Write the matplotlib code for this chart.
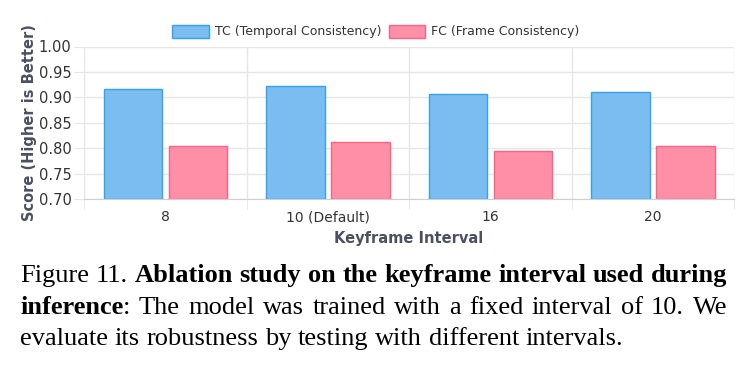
import matplotlib
matplotlib.use('Agg')
import matplotlib.pyplot as plt
import numpy as np

# data
intervals = ['8', '10 (Default)', '16', '20']
tc_scores = [0.917, 0.923, 0.907, 0.910]
fc_scores = [0.805, 0.813, 0.795, 0.804]
y_ticks = [0.70, 0.75, 0.80, 0.85, 0.90, 0.95, 1.00]

W, H = 744, 369
fig = plt.figure(figsize=(W / 100, H / 100), dpi=100)
ax = fig.add_axes([84 / W, 1 - 199 / H, 650 / W, (199 - 46.5) / H])

x = np.arange(len(intervals))
bw = 0.36
ax.bar(x - 0.2, [v - 0.70 for v in tc_scores], bw, bottom=0.70, color='#7bbdf0',
       edgecolor='#36a2eb', linewidth=1, label='TC (Temporal Consistency)', zorder=3)
ax.bar(x + 0.2, [v - 0.70 for v in fc_scores], bw, bottom=0.70, color='#ff8fa6',
       edgecolor='#ff6384', linewidth=1, label='FC (Frame Consistency)', zorder=3)

ax.set_xlim(-0.5, len(intervals) - 0.5)
ax.set_ylim(0.70, 1.00)
ax.set_yticks(y_ticks)
ax.set_yticklabels([f'{t:.2f}' for t in y_ticks])
ax.set_xticks(x)
ax.set_xticklabels(intervals)
ax.set_xticks(np.arange(-0.5, len(intervals), 1.0), minor=True)

ax.grid(axis='y', color='#e6e6e6', linewidth=1, zorder=0)
ax.grid(axis='x', which='minor', color='#e6e6e6', linewidth=1, zorder=0)
ax.tick_params(axis='x', which='major', length=0, pad=8, labelsize=10, labelcolor='#333333')
ax.tick_params(axis='x', which='minor', length=7, color='#e6e6e6')
ax.tick_params(axis='y', length=7, color='#e6e6e6', pad=2, labelsize=10.5, labelcolor='#333333')
for s in ['top', 'right']:
    ax.spines[s].set_visible(False)
ax.spines['left'].set_color('#e6e6e6')
ax.spines['bottom'].set_color('#d0d0d0')

ax.set_ylabel('Score (Higher is Better)', fontsize=10.5, fontweight='bold', color='#4a5060', labelpad=1)
ax.set_xlabel('Keyframe Interval', fontsize=10.5, fontweight='bold', color='#4a5060', labelpad=5)

fig.legend(*ax.get_legend_handles_labels(), loc='center', bbox_to_anchor=(376 / W, 1 - 31.5 / H),
           ncol=2, frameon=False, fontsize=9, handlelength=2.9, handleheight=1.2,
           columnspacing=0.6, handletextpad=0.5, labelcolor='#333333')

# caption (first two lines justified like the paper)
fig.canvas.draw()
r = fig.canvas.get_renderer()
serif = 'Liberation Serif'
fs = 19
# each word: (text, weight, glued to previous word)
lines = [
    [('Figure', 'normal', False), ('11.', 'normal', False)]
    + [(w, 'bold', False) for w in 'Ablation study on the keyframe interval used during'.split()],
    [('inference', 'bold', False)]
    + [(w, 'normal', i == 0) for i, w in enumerate(': The model was trained with a fixed interval of 10. We'.split())],
    [(w, 'normal', False) for w in 'evaluate its robustness by testing with different intervals.'.split()],
]
justify = [True, True, False]
baselines = [282, 313.5, 345]
x0, x1 = 20, 727


def width(txt, wt):
    t = fig.text(0, 0, txt, fontsize=fs, fontweight=wt, family=serif)
    w = t.get_window_extent(r).width
    t.remove()
    return w


space = width('a b', 'normal') - width('ab', 'normal')
for words, yb, just in zip(lines, baselines, justify):
    ws = [width(p, wt) for p, wt, g in words]
    n_gaps = sum(1 for k, (p, wt, g) in enumerate(words) if k > 0 and not g)
    gap = space
    if just and n_gaps:
        gap = (x1 - x0 - sum(ws)) / n_gaps
    xp = x0
    for k, ((p, wt, g), w) in enumerate(zip(words, ws)):
        if k > 0 and not g:
            xp += gap
        fig.text(xp / W, 1 - yb / H, p, fontsize=fs, fontweight=wt,
                 family=serif, va='baseline', ha='left', color='black')
        xp += w

fig.savefig('out.png', dpi=100)
